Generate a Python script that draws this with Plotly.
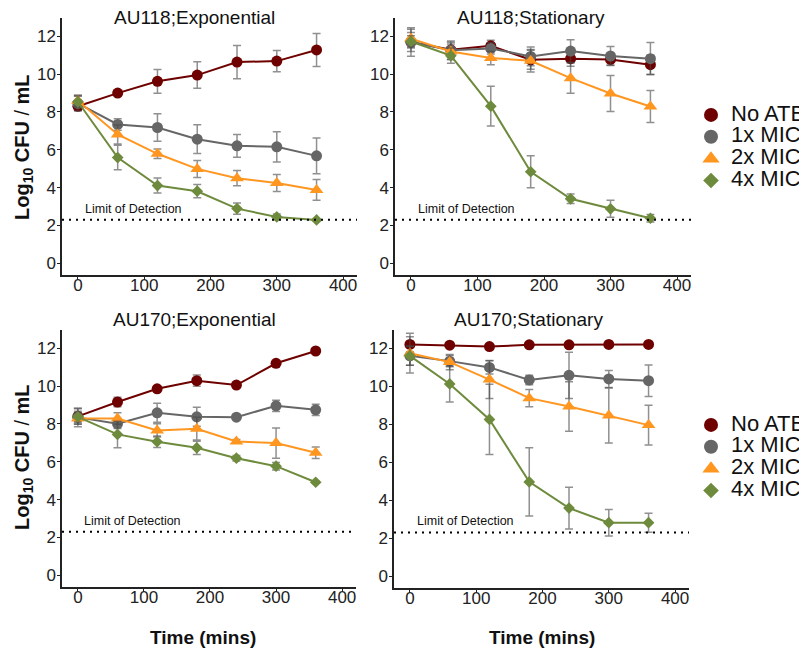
import plotly.graph_objects as go

# ---------------- data ----------------
time_mins = [0, 60, 120, 180, 240, 300, 360]
series_names = ["No ATB", "1x MIC", "2x MIC", "4x MIC"]
panel_titles = ["AU118;Exponential", "AU118;Stationary", "AU170;Exponential", "AU170;Stationary"]
limit_of_detection = 2.3
x_ticks = [0, 100, 200, 300, 400]
y_ticks = [0, 2, 4, 6, 8, 10, 12]

# AU118 exponential
au118_exp_noatb = [8.3, 9.0, 9.62, 9.95, 10.64, 10.69, 11.28]
au118_exp_noatb_err = [0.2, 0.1, 0.63, 0.7, 0.88, 0.56, 0.87]
au118_exp_1x = [8.45, 7.34, 7.18, 6.56, 6.21, 6.16, 5.68]
au118_exp_1x_err = [0.4, 0.3, 0.73, 0.76, 0.6, 0.8, 0.94]
au118_exp_2x = [8.6, 6.81, 5.79, 4.99, 4.5, 4.25, 3.88]
au118_exp_2x_err = [0.3, 0.5, 0.25, 0.45, 0.4, 0.45, 0.55]
au118_exp_4x = [8.54, 5.59, 4.11, 3.81, 2.89, 2.45, 2.29]
au118_exp_4x_err = [0.3, 0.65, 0.4, 0.35, 0.3, 0.15, 0.05]

# AU118 stationary
au118_sta_noatb = [11.7, 11.29, 11.5, 10.76, 10.82, 10.78, 10.5]
au118_sta_noatb_err = [0.5, 0.4, 0.3, 0.5, 0.4, 0.3, 0.5]
au118_sta_1x = [11.7, 11.26, 11.36, 10.94, 11.22, 10.96, 10.82]
au118_sta_1x_err = [0.75, 0.5, 0.3, 0.5, 0.6, 0.5, 0.85]
au118_sta_2x = [11.88, 11.2, 10.85, 10.71, 9.79, 8.98, 8.29]
au118_sta_2x_err = [0.5, 0.4, 0.35, 0.6, 0.8, 0.95, 0.85]
au118_sta_4x = [11.73, 10.98, 8.31, 4.84, 3.41, 2.88, 2.38]
au118_sta_4x_err = [0.3, 0.4, 1.05, 0.85, 0.25, 0.45, 0.2]

# AU170 exponential
au170_exp_noatb = [8.4, 9.16, 9.86, 10.29, 10.06, 11.21, 11.86]
au170_exp_noatb_err = [0.4, 0.25, 0.1, 0.3, 0.1, 0.1, 0.05]
au170_exp_1x = [8.35, 8.01, 8.59, 8.38, 8.36, 8.96, 8.75]
au170_exp_1x_err = [0.5, 0.25, 0.5, 0.5, 0.1, 0.3, 0.3]
au170_exp_2x = [8.29, 8.29, 7.66, 7.75, 7.08, 6.99, 6.48]
au170_exp_2x_err = [0.3, 0.3, 0.35, 0.6, 0.1, 0.8, 0.3]
au170_exp_4x = [8.38, 7.45, 7.06, 6.74, 6.19, 5.77, 4.92]
au170_exp_4x_err = [0.3, 0.7, 0.3, 0.35, 0.15, 0.2, 0.05]

# AU170 stationary
au170_sta_noatb = [12.21, 12.17, 12.1, 12.19, 12.19, 12.21, 12.21]
au170_sta_noatb_err = [0.4, 0.05, 0.05, 0.05, 0.05, 0.05, 0.05]
au170_sta_1x = [11.61, 11.33, 11.0, 10.34, 10.58, 10.39, 10.3]
au170_sta_1x_err = [0.5, 0.3, 0.35, 0.25, 1.22, 0.45, 0.83]
au170_sta_2x = [11.75, 11.28, 10.36, 9.38, 8.94, 8.47, 7.96]
au170_sta_2x_err = [1.05, 0.4, 1.0, 0.45, 1.3, 1.45, 1.05]
au170_sta_4x = [11.61, 10.13, 8.26, 4.97, 3.59, 2.82, 2.82]
au170_sta_4x_err = [0.5, 0.95, 1.85, 1.8, 1.1, 0.7, 0.5]

panel_means = [
    [au118_exp_noatb, au118_exp_1x, au118_exp_2x, au118_exp_4x],
    [au118_sta_noatb, au118_sta_1x, au118_sta_2x, au118_sta_4x],
    [au170_exp_noatb, au170_exp_1x, au170_exp_2x, au170_exp_4x],
    [au170_sta_noatb, au170_sta_1x, au170_sta_2x, au170_sta_4x],
]
panel_errs = [
    [au118_exp_noatb_err, au118_exp_1x_err, au118_exp_2x_err, au118_exp_4x_err],
    [au118_sta_noatb_err, au118_sta_1x_err, au118_sta_2x_err, au118_sta_4x_err],
    [au170_exp_noatb_err, au170_exp_1x_err, au170_exp_2x_err, au170_exp_4x_err],
    [au170_sta_noatb_err, au170_sta_1x_err, au170_sta_2x_err, au170_sta_4x_err],
]

# ---------------- styles ----------------
colors = ["#6E0000", "#666666", "#FF9620", "#6E8B3D"]
symbols = ["circle", "circle", "triangle-up", "diamond"]
sizes = [11, 11, 12, 9]
FONT = "Liberation Sans, Arial, sans-serif"
W, H = 807, 651
OFF = 8  # page body margin

def fx(p):
    return (p - OFF) / W

def fy(p):
    return 1 - (p - OFF) / H

x_domains = [[fx(62), fx(357)], [fx(395), fx(691)], [fx(62), fx(356)], [fx(394), fx(689)]]
y_domains = [[fy(275), fy(18)], [fy(275), fy(18)], [fy(587), fy(330)], [fy(588), fy(330)]]
x_range = [-24, 421]
y_range = [-0.62, 12.97]

fig = go.Figure()
layout = dict(
    width=W, height=H,
    margin=dict(l=0, r=0, t=0, b=0),
    paper_bgcolor="white", plot_bgcolor="white",
    font=dict(family=FONT, color="#222222"),
    showlegend=True,
)

annotations = []
shapes = []
for p in range(4):
    xa = "x" if p == 0 else f"x{p+1}"
    ya = "y" if p == 0 else f"y{p+1}"
    for s in range(4):
        fig.add_trace(go.Scatter(
            x=time_mins, y=panel_means[p][s], xaxis=xa, yaxis=ya,
            mode="lines+markers", name=series_names[s], showlegend=False,
            line=dict(color=colors[s], width=2),
            marker=dict(color=colors[s], symbol=symbols[s], size=sizes[s]),
            error_y=dict(type="data", array=panel_errs[p][s], color="rgba(70,70,70,0.6)",
                         thickness=1.5, width=4),
        ))
    axkey = "xaxis" if p == 0 else f"xaxis{p+1}"
    aykey = "yaxis" if p == 0 else f"yaxis{p+1}"
    layout[axkey] = dict(
        domain=x_domains[p], range=x_range, anchor=ya, tickvals=x_ticks,
        showline=True, linecolor="#222222", linewidth=1.5, ticks="outside", ticklen=3,
        tickcolor="#222222", showgrid=False, zeroline=False, ticklabelstandoff=-9,
        tickfont=dict(size=17, color="#222222", family=FONT),
    )
    layout[aykey] = dict(
        domain=y_domains[p], range=y_range, anchor=xa, tickvals=y_ticks,
        showline=True, linecolor="#222222", linewidth=1.5, ticks="outside", ticklen=3,
        tickcolor="#222222", showgrid=False, zeroline=False, ticklabelstandoff=-2,
        tickfont=dict(size=17, color="#222222", family=FONT),
    )
    shapes.append(dict(type="line", xref=f"{xa} domain", yref=ya, x0=0, x1=1,
                       y0=limit_of_detection, y1=limit_of_detection,
                       line=dict(color="black", width=2, dash="2px,5px")))
    annotations.append(dict(xref=xa, yref=ya, x=7, y=limit_of_detection + 0.12,
                            xanchor="left", yanchor="bottom", showarrow=False,
                            text="Limit of Detection", font=dict(size=12.5, color="#111111")))

# panel titles
title_pos = [(194, 17), (531, 17), (194, 320), (528, 320)]
for p, (tx, ty) in enumerate(title_pos):
    annotations.append(dict(xref="paper", yref="paper", x=fx(tx), y=fy(ty),
                            xanchor="center", yanchor="middle", showarrow=False,
                            text=panel_titles[p], font=dict(size=19, color="#111111")))

# y-axis titles
for cy in (147, 457):
    annotations.append(dict(xref="paper", yref="paper", x=fx(23), y=fy(cy),
                            xanchor="center", yanchor="middle", showarrow=False, textangle=-90,
                            text="<b>Log<sub>10</sub> CFU</b> / <b>mL</b>",
                            font=dict(size=20, color="#111111")))
# x-axis titles
for cx in (203, 542):
    annotations.append(dict(xref="paper", yref="paper", x=fx(cx), y=fy(637),
                            xanchor="center", yanchor="middle", showarrow=False,
                            text="<b>Time (mins)</b>", font=dict(size=19, color="#111111")))

# legend-only traces
for lg in ("legend", "legend2"):
    for s in range(4):
        fig.add_trace(go.Scatter(
            x=[None], y=[None], mode="markers", legend=lg,
            name='<span style="font-size:22px">' + series_names[s] + "</span>",
            marker=dict(color=colors[s], symbol=symbols[s], size=[14, 14, 15, 12][s]),
        ))

leg_common = dict(xanchor="left", yanchor="top", bgcolor="rgba(0,0,0,0)",
                  font=dict(size=14.5, color="#111111", family=FONT),
                  itemwidth=30, tracegroupgap=0)
layout["legend"] = dict(x=fx(691), y=fy(99), **leg_common)
layout["legend2"] = dict(x=fx(691), y=fy(409), **leg_common)
layout["annotations"] = annotations
layout["shapes"] = shapes
fig.update_layout(**layout)

fig.write_html("out.html")
